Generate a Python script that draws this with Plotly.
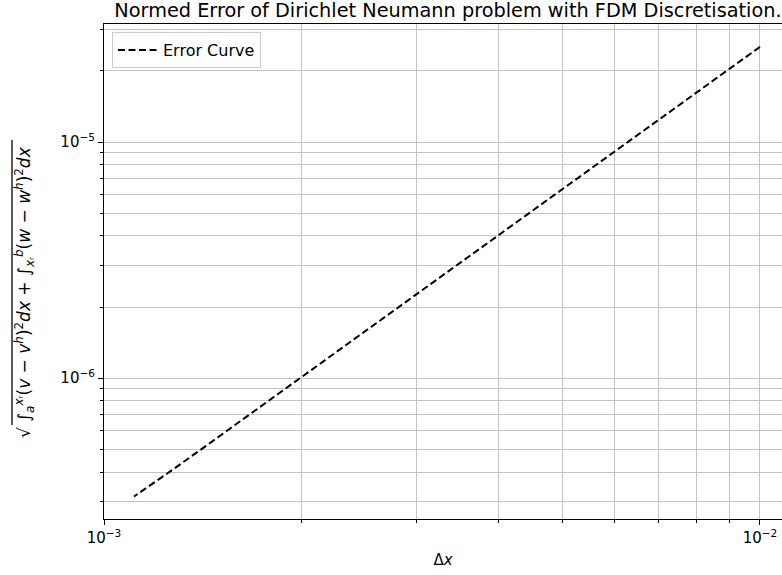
import plotly.graph_objects as go

# Data (log-log error curve)
dx_values = [0.01, 0.005, 0.003333, 0.0025, 0.002, 0.001667, 0.001429, 0.00125, 0.001111]
error_values = [2.53e-5, 6.3e-6, 2.8e-6, 1.58e-6, 1.01e-6, 7.0e-7, 5.15e-7, 3.95e-7, 3.15e-7]

x_major = [1e-3, 1e-2]
x_major_text = ["10<sup>−3</sup>", "10<sup>−2</sup>"]
x_minor = [2e-3, 3e-3, 4e-3, 5e-3, 6e-3, 7e-3, 8e-3, 9e-3]
y_major = [1e-6, 1e-5]
y_major_text = ["10<sup>−6</sup>", "10<sup>−5</sup>"]
y_minor = [3e-7, 4e-7, 5e-7, 6e-7, 7e-7, 8e-7, 9e-7,
           2e-6, 3e-6, 4e-6, 5e-6, 6e-6, 7e-6, 8e-6, 9e-6, 2e-5, 3e-5]

W, H = 782, 575
L, R, T, B = 104, 0, 24, 56
PW, PH = W - L - R, H - T - B
FONT = "DejaVu Sans"
GRID = "#c4c4c4"


def px_x(px):
    return (px - L) / PW


def px_y(py):
    return (H - B - py) / PH


fig = go.Figure()
fig.add_trace(go.Scatter(
    x=dx_values, y=error_values, mode="lines", name="Error Curve",
    line=dict(color="black", width=2, dash="7px,3.5px"),
))

axis_common = dict(
    type="log", showline=True, linecolor="black", linewidth=1.1,
    ticks="outside", ticklen=5, tickwidth=1.1, tickcolor="black",
    showgrid=True, gridcolor=GRID, gridwidth=1.1, zeroline=False,
    tickfont=dict(family=FONT, size=15, color="black"),
    automargin=False,
)

fig.update_layout(
    width=W, height=H,
    margin=dict(l=L, r=R, t=T, b=B, autoexpand=False),
    paper_bgcolor="white", plot_bgcolor="white",
    font=dict(family=FONT, color="black"),
    title=dict(
        text="Normed Error of Dirichlet Neumann problem with FDM Discretisation.",
        x=448 / W, xref="container", xanchor="center",
        y=1 - 10 / H, yref="container", yanchor="middle",
        font=dict(family=FONT, size=19.3, color="black"),
        automargin=False,
    ),
    xaxis=dict(
        **axis_common, range=[-3, -1.9664], mirror=True,
        tickmode="array", tickvals=x_major, ticktext=x_major_text,
        minor=dict(tickmode="array", tickvals=x_minor, ticks="outside",
                   ticklen=3, tickwidth=0.8, tickcolor="black",
                   showgrid=True, gridcolor=GRID, gridwidth=1.1),
        title=dict(text="Δ<i>x</i>", font=dict(family=FONT, size=15, color="black"), standoff=8),
    ),
    yaxis=dict(
        **axis_common, range=[-6.597, -4.5], mirror=False,
        tickmode="array", tickvals=y_major, ticktext=y_major_text,
        minor=dict(tickmode="array", tickvals=y_minor, ticks="outside",
                   ticklen=3, tickwidth=0.8, tickcolor="black",
                   showgrid=True, gridcolor=GRID, gridwidth=1.1),
    ),
    legend=dict(
        x=px_x(112), y=px_y(32),
        xanchor="left", yanchor="top",
        bgcolor="rgba(255,255,255,0.8)", bordercolor="#cccccc", borderwidth=1,
        font=dict(family=FONT, size=16, color="black"),
        itemwidth=40, tracegroupgap=0,
    ),
    showlegend=True,
)

ylabel = ("√ ∫<sub><i>a</i></sub><sup><i>x</i>ᵣ</sup>"
          "(<i>v</i> − <i>v</i><sup><i>h</i></sup>)<sup>2</sup><i>dx</i> + "
          "∫<sub><i>x</i>ᵣ</sub><sup><i>b</i></sup>"
          "(<i>w</i> − <i>w</i><sup><i>h</i></sup>)<sup>2</sup><i>dx</i>")
fig.add_annotation(
    text=ylabel, textangle=-90, showarrow=False,
    xref="paper", yref="paper",
    x=px_x(25), y=px_y(292),
    xanchor="center", yanchor="middle",
    font=dict(family=FONT, size=17, color="black"),
)
# vinculum of the square root in the axis label
fig.add_shape(
    type="line", xref="paper", yref="paper",
    x0=px_x(12), x1=px_x(12), y0=px_y(425), y1=px_y(140),
    line=dict(color="black", width=1.3),
)

fig.write_html(
    "out.html",
    config={"displayModeBar": False},
    post_script="document.body.style.margin='0';document.body.style.overflow='hidden';",
)
